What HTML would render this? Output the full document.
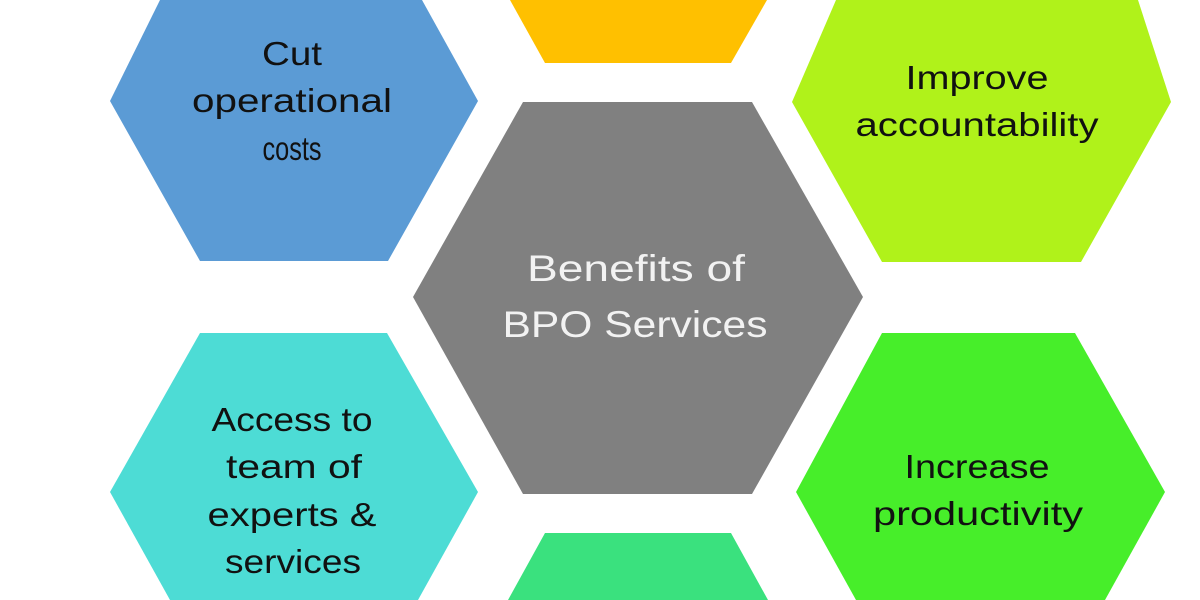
<!DOCTYPE html>
<html><head><meta charset="utf-8"><style>
html,body{margin:0;padding:0;background:#fff;width:1200px;height:600px;overflow:hidden}
svg{display:block;overflow:hidden}
text{font-family:"Liberation Sans Narrow","Liberation Sans",sans-serif;font-size:33px;text-anchor:middle}
</style></head><body>
<svg width="1200" height="600" viewBox="0 0 1200 600" xmlns="http://www.w3.org/2000/svg">
<rect width="1200" height="600" fill="#fff"/>
<polygon points="160,0 422,0 478,101 388,261 200,261 110,101" fill="#5B9BD5"/>
<polygon points="510,0 767,0 731,63 545,63" fill="#FFC000"/>
<polygon points="836,0 1138,0 1171,102 1081,262 882,262 792,102" fill="#B0F21A"/>
<polygon points="523,102 752,102 863,297 752,494 523,494 413,297" fill="#808080"/>
<polygon points="200,333 387,333 478,492 418,600 170,600 110,492" fill="#4DDCD5"/>
<polygon points="882,333 1075,333 1165,492 1105,600 856,600 796,492" fill="#47EE2A"/>
<polygon points="545,533 731,533 768,600 508,600" fill="#3AE17E"/>
<g fill="#111">
<text x="292" y="65" textLength="60" lengthAdjust="spacingAndGlyphs">Cut</text>
<text x="292" y="112" textLength="200" lengthAdjust="spacingAndGlyphs">operational</text>
<text x="292" y="160" textLength="59" lengthAdjust="spacingAndGlyphs">costs</text>
<text x="977" y="89" textLength="143" lengthAdjust="spacingAndGlyphs">Improve</text>
<text x="977" y="136" textLength="243" lengthAdjust="spacingAndGlyphs">accountability</text>
<text x="292" y="431" textLength="161" lengthAdjust="spacingAndGlyphs">Access to</text>
<text x="294" y="478" textLength="136" lengthAdjust="spacingAndGlyphs">team of</text>
<text x="292" y="526" textLength="169" lengthAdjust="spacingAndGlyphs">experts &amp;</text>
<text x="293" y="573" textLength="136" lengthAdjust="spacingAndGlyphs">services</text>
<text x="977" y="478" textLength="145" lengthAdjust="spacingAndGlyphs">Increase</text>
<text x="978" y="525" textLength="210" lengthAdjust="spacingAndGlyphs">productivity</text>
</g>
<g fill="#f2f2f2">
<text x="636" y="281" style="font-size:37px" textLength="218" lengthAdjust="spacingAndGlyphs">Benefits of</text>
<text x="635" y="337" style="font-size:37px" textLength="265" lengthAdjust="spacingAndGlyphs">BPO Services</text>
</g>
</svg>
</body></html>
